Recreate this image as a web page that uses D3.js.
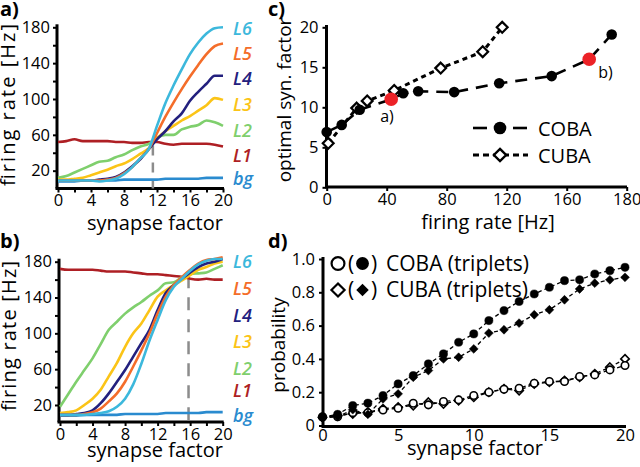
<!DOCTYPE html>
<html><head><meta charset="utf-8">
<script src="https://cdn.jsdelivr.net/npm/d3@7"></script>
<style>
body{margin:0;background:#fff;}
svg{display:block;font-family:"Open Sans",sans-serif;}
</style></head><body>
<svg id="chart" width="640" height="467"></svg>
<script>
// ---------- data ----------
const synapseFactor = [0,1,2,3,4,5,6,7,8,9,10,11,12,13,14,15,16,17,18,19,20];
const layerNames  = ["L6","L5","L4","L3","L2","L1","bg"];
const layerColors = ["#3cb8dc","#f46d2a","#23207e","#fbc417","#7fcf6d","#ae1f24","#2a8bcf"];

// panel a) firing rate [Hz] per synapse factor
const aL6 = [9,9,9,9,9,8,9,11,16,24,34,44,70,95,115,133,150,163,173,179,180];
const aL5 = [9,9,9,9,9,9,10,12,17,24,34,44,62,80,96,111,125,138,150,159,162];
const aL4 = [9,9,9,9,9,10,11,13,18,25,33,44,55,64,75,84,98,108,117,126,126];
const aL3 = [10,10,11,12,15,18,21,25,28,33,39,45,56,64,70,76,81,87,93,101,99];
const aL2 = [12,14,18,22,26,30,31,35,38,43,47,50,57,60,60,66,69,71,76,74,70];
const aL1 = [52,53,55,53,53,53,53,52,52,51,51,52,52,50,49,50,50,50,50,49,47];
const aBg = [8,8,8,9,9,9,9,9,10,10,10,10,10,11,11,11,11,11,12,12,12];

// panel b)
const bL6 = [9,9,9,9,10,11,13,18,27,43,66,92,115,137,152,161,170,177,181,183,183];
const bL5 = [9,9,9,10,12,16,24,33,46,63,81,100,122,141,154,163,171,178,182,183,185];
const bL4 = [9,9,10,11,14,22,33,46,59,74,89,104,126,145,154,161,168,174,178,180,183];
const bL3 = [11,12,14,20,27,37,52,67,85,100,111,126,141,148,154,159,165,171,174,178,180];
const bL2 = [18,32,46,59,72,88,104,113,122,129,135,142,148,156,157,163,166,167,168,172,176];
const bL1 = [172,171,171,171,171,170,169,169,169,168,167,166,166,165,164,163,161,160,161,160,160];
const bBg = [8,8,8,9,9,9,9,9,10,10,10,10,10,11,11,11,11,11,12,12,12];

const aMarker = 11.5, aMarkerTop = 48;
const bMarker = 15.8, bMarkerTop = 165;

// panel c) optimal synapse factor vs firing rate
const cobaRate   = [0,10,22,43,51,61,85,115,150,175,190];
const cobaFactor = [6.9,7.8,9.7,11,11.75,12,11.9,13,13.9,16,19.1];
const cobaMarked = ["","","","a)","","","","","","b)",""];
const cubaRate   = [1,20,27,45,76,104,117];
const cubaFactor = [5.5,9.9,10.8,12.1,14.9,16.95,20];
const cTickValues = [0,40,80,120,160,200];
const cTickLabels = ["0","40","80","120","160","180"];

// panel d) probability vs synapse factor
const dCobaFilled = [0.05,0.067,0.12,0.134,0.18,0.25,0.30,0.37,0.43,0.50,0.55,0.63,0.69,0.745,0.79,0.83,0.87,0.875,0.91,0.93,0.95];
const dCubaFilled = [0.045,0.053,0.095,0.067,0.16,0.19,0.29,0.33,0.40,0.41,0.46,0.555,0.575,0.615,0.665,0.695,0.755,0.82,0.855,0.875,0.89];
const dCobaOpen   = [0.053,0.053,0.077,0.077,0.093,0.104,0.134,0.124,0.144,0.154,0.18,0.2,0.218,0.224,0.254,0.264,0.264,0.294,0.304,0.334,0.36];
const dCubaOpen   = [0.05,0.06,0.07,0.08,0.1,0.11,0.12,0.14,0.13,0.15,0.17,0.2,0.22,0.21,0.25,0.26,0.27,0.29,0.31,0.35,0.40];

// ---------- drawing ----------
const svg = d3.select("#chart");
const TICK_FS = "16.5px", TITLE_FS = "20px";

function styleAxis(g){
  g.select(".domain").attr("stroke","#000").attr("stroke-width",3);
  g.selectAll(".tick line").attr("stroke","#000").attr("stroke-width",2);
  g.selectAll(".tick text").attr("fill","#000").style("font-size",TICK_FS)
    .style("font-family","'Open Sans',sans-serif");
  g.attr("font-family",null).attr("font-size",null);
}
function labeledFmt(labeled){ return d => labeled.includes(d) ? String(d) : ""; }

function panelLayers(series, x, y, yAxisX, xAxisY, marker, markerTop, labelY, dash){
  const g = svg.append("g");
  const yax = g.append("g").attr("transform",`translate(${yAxisX},0)`)
    .call(d3.axisLeft(y).tickValues([20,40,60,80,100,120,140,160,180]).tickSize(4).tickSizeOuter(0)
      .tickFormat(labeledFmt([20,60,100,140,180])).tickPadding(3));
  styleAxis(yax);
  const xax = g.append("g").attr("transform",`translate(0,${xAxisY})`)
    .call(d3.axisBottom(x).tickValues(synapseFactor.filter(v=>v%2===0)).tickSize(4).tickSizeOuter(0)
      .tickFormat(labeledFmt([0,4,8,12,16,20])).tickPadding(2));
  styleAxis(xax);
  yax.select(".domain").attr("d",`M0,${xAxisY}V${y.range()[1]-3}`);
  xax.select(".domain").attr("d",`M${yAxisX-1.5},0H${x.range()[1]+1}`);
  g.append("line").attr("x1",x(marker)).attr("x2",x(marker))
    .attr("y1",y(markerTop)).attr("y2",y(0))
    .attr("stroke","#8c8c8c").attr("stroke-width",2.5).attr("stroke-dasharray",dash);
  const line = d3.line().x((d,i)=>x(synapseFactor[i])).y(d=>y(d)).curve(d3.curveMonotoneX);
  [6,5,4,3,2,1,0].forEach(k=>{
    g.append("path").attr("d",line(series[k])).attr("fill","none")
      .attr("stroke",layerColors[k]).attr("stroke-width",2.6).attr("stroke-linejoin","round");
  });
  layerNames.forEach((n,k)=>{
    g.append("text").attr("x",233).attr("y",labelY[k]).text(n)
      .attr("fill",layerColors[k]).style("font-size","18px").style("font-style","italic").style("font-weight",600);
  });
}

// panel a
{
  const x = d3.scaleLinear().domain([0,20]).range([58,223]);
  const y = d3.scaleLinear().domain([0,180]).range([188.6,27.3]);
  panelLayers([aL6,aL5,aL4,aL3,aL2,aL1,aBg], x, y, 57, 188.5, aMarker, aMarkerTop,
    [35,60,85,111,137,162,185], "10,7");
}
// panel b
{
  const x = d3.scaleLinear().domain([0,20]).range([60,222.7]);
  const y = d3.scaleLinear().domain([0,180]).range([422.9,261.7]);
  panelLayers([bL6,bL5,bL4,bL3,bL2,bL1,bBg], x, y, 59, 422, bMarker, bMarkerTop,
    [268,295,322,348,375,397,422], "13,9");
}

// panel c
{
  const g = svg.append("g");
  const x = d3.scaleLinear().domain([0,200]).range([326.7,626.7]);
  const y = d3.scaleLinear().domain([0,20]).range([187.3,27.3]);
  const yax = g.append("g").attr("transform","translate(326.5,0)")
    .call(d3.axisLeft(y).tickValues([0,5,10,15,20]).tickSize(4).tickSizeOuter(0).tickPadding(4));
  styleAxis(yax);
  yax.select(".domain").attr("d","M0,187.3V25");
  const xax = g.append("g").attr("transform","translate(0,187)")
    .call(d3.axisBottom(x).tickValues(cTickValues).tickSize(4).tickSizeOuter(0)
      .tickFormat((d,i)=>cTickLabels[i]).tickPadding(2));
  styleAxis(xax);
  xax.select(".domain").attr("d","M325,0H627");

  const cuba = cubaRate.map((r,i)=>[r,cubaFactor[i]]);
  const coba = cobaRate.map((r,i)=>[r,cobaFactor[i],cobaMarked[i]]);
  const ln = d3.line().x(d=>x(d[0])).y(d=>y(d[1]));
  g.append("path").attr("d",ln(cuba)).attr("fill","none").attr("stroke","#000")
    .attr("stroke-width",3).attr("stroke-dasharray","5,4");
  g.append("path").attr("d",ln(coba)).attr("fill","none").attr("stroke","#000")
    .attr("stroke-width",2.6).attr("stroke-dasharray","12,8");
  const dia = d3.symbol().type(d3.symbolDiamond2);
  g.selectAll(".cuba").data(cuba).join("path")
    .attr("d",dia.size(75)()).attr("transform",d=>`translate(${x(d[0])},${y(d[1])})`)
    .attr("fill","#fff").attr("stroke","#000").attr("stroke-width",2.2);
  g.selectAll(".coba").data(coba).join("circle")
    .attr("cx",d=>x(d[0])).attr("cy",d=>y(d[1])).attr("r",d=>d[2]?6.8:5.3)
    .attr("fill",d=>d[2]?"#ec2227":"#000");
  coba.filter(d=>d[2]).forEach(d=>{
    const left = d[2]==="a)";
    g.append("text").attr("x",x(d[0]) + (left? -11 : 9)).attr("y",y(d[1]) + (left? 23 : 19))
      .text(d[2]).style("font-size","16px").attr("fill","#000");
  });
  const lg = g.append("g");
  lg.append("line").attr("x1",473).attr("x2",487).attr("y1",128).attr("y2",128).attr("stroke","#000").attr("stroke-width",2.6);
  lg.append("line").attr("x1",513).attr("x2",527).attr("y1",128).attr("y2",128).attr("stroke","#000").attr("stroke-width",2.6);
  lg.append("circle").attr("cx",500).attr("cy",128).attr("r",6.3).attr("fill","#000");
  lg.append("text").attr("x",538).attr("y",135.5).text("COBA").style("font-size",TITLE_FS);
  lg.append("line").attr("x1",473).attr("x2",528).attr("y1",155).attr("y2",155).attr("stroke","#000")
    .attr("stroke-width",3).attr("stroke-dasharray","6,4");
  lg.append("path").attr("d",dia.size(95)()).attr("transform","translate(500,155)")
    .attr("fill","#fff").attr("stroke","#000").attr("stroke-width",2.4);
  lg.append("text").attr("x",538).attr("y",162.5).text("CUBA").style("font-size",TITLE_FS);
}

// panel d
{
  const g = svg.append("g");
  const x = d3.scaleLinear().domain([0,20]).range([322.5,625]);
  const y = d3.scaleLinear().domain([0,1]).range([425.5,259]);
  const yax = g.append("g").attr("transform","translate(323,0)")
    .call(d3.axisLeft(y).tickValues([0,0.2,0.4,0.6,0.8,1.0]).tickSize(4).tickSizeOuter(0)
      .tickFormat(d=> d===0 ? "0" : d3.format(".1f")(d)).tickPadding(4));
  styleAxis(yax);
  yax.select(".domain").attr("d","M0,427V257");
  const xax = g.append("g").attr("transform","translate(0,426.5)")
    .call(d3.axisBottom(x).tickValues([0,5,10,15,20]).tickSize(0).tickSizeOuter(0).tickPadding(3));
  styleAxis(xax);
  xax.select(".domain").attr("d","M321.5,0H626");

  const ln = d3.line().x((d,i)=>x(synapseFactor[i])).y(d=>y(d));
  const dia = d3.symbol().type(d3.symbolDiamond2);
  function series(vals, kind, filled){
    g.append("path").attr("d",ln(vals)).attr("fill","none").attr("stroke","#000")
      .attr("stroke-width",1.3).attr("stroke-dasharray","4,3");
    g.append("g").selectAll("path").data(vals).join("path")
      .attr("transform",(d,i)=>`translate(${x(synapseFactor[i])},${y(d)})`)
      .attr("d", kind==="circle" ? d3.symbol().type(d3.symbolCircle).size(filled?52:44)() : dia.size(filled?50:46)())
      .attr("fill",filled?"#000":"#fff").attr("stroke","#000").attr("stroke-width",filled?0.5:1.6);
  }
  series(dCubaOpen,"diamond",false);
  series(dCobaOpen,"circle",false);
  series(dCubaFilled,"diamond",true);
  series(dCobaFilled,"circle",true);

  const lg = g.append("g");
  const rows = [["circle","COBA (triplets)",263.5],["diamond","CUBA (triplets)",290]];
  rows.forEach(([k,label,cy])=>{
    const shpOpen = k==="circle" ? d3.symbol().type(d3.symbolCircle).size(130)() : dia.size(110)();
    const shpFill = k==="circle" ? d3.symbol().type(d3.symbolCircle).size(130)() : dia.size(100)();
    lg.append("path").attr("d",shpOpen).attr("transform",`translate(338,${cy})`)
      .attr("fill","#fff").attr("stroke","#000").attr("stroke-width",2.2);
    lg.append("text").attr("x",348).attr("y",cy+7).text("(").style("font-size","21px");
    lg.append("path").attr("d",shpFill).attr("transform",`translate(362.5,${cy})`).attr("fill","#000");
    lg.append("text").attr("x",371).attr("y",cy+7).text(")").style("font-size","21px");
    lg.append("text").attr("x",386).attr("y",cy+7).text(label).style("font-size","21px");
  });
}

function title(txt,x,y,rot,len,fs){
  const t = svg.append("text").attr("text-anchor","middle").style("font-size",fs||TITLE_FS).text(txt);
  if(rot){ t.attr("transform",`translate(${x},${y}) rotate(-90)`); }
  else { t.attr("x",x).attr("y",y); }
  if(len) t.attr("textLength",len).attr("lengthAdjust","spacing");
}
title("firing rate [Hz]",15,105,true,162);
title("synapse factor",155,230);
title("firing rate [Hz]",16,336,true,150);
title("synapse factor",155,457);
title("optimal syn. factor",291,100,true,null,"19px");
title("firing rate [Hz]",488,229);
title("probability",285,345,true,null,"19px");
title("synapse factor",475,455);

[["a)",0,16],["c)",268,16],["b)",0,248],["d)",268,248]].forEach(([t,x,y])=>{
  svg.append("text").attr("x",x).attr("y",y).text(t).style("font-size","20px").style("font-weight",700);
});
</script>
</body></html>
